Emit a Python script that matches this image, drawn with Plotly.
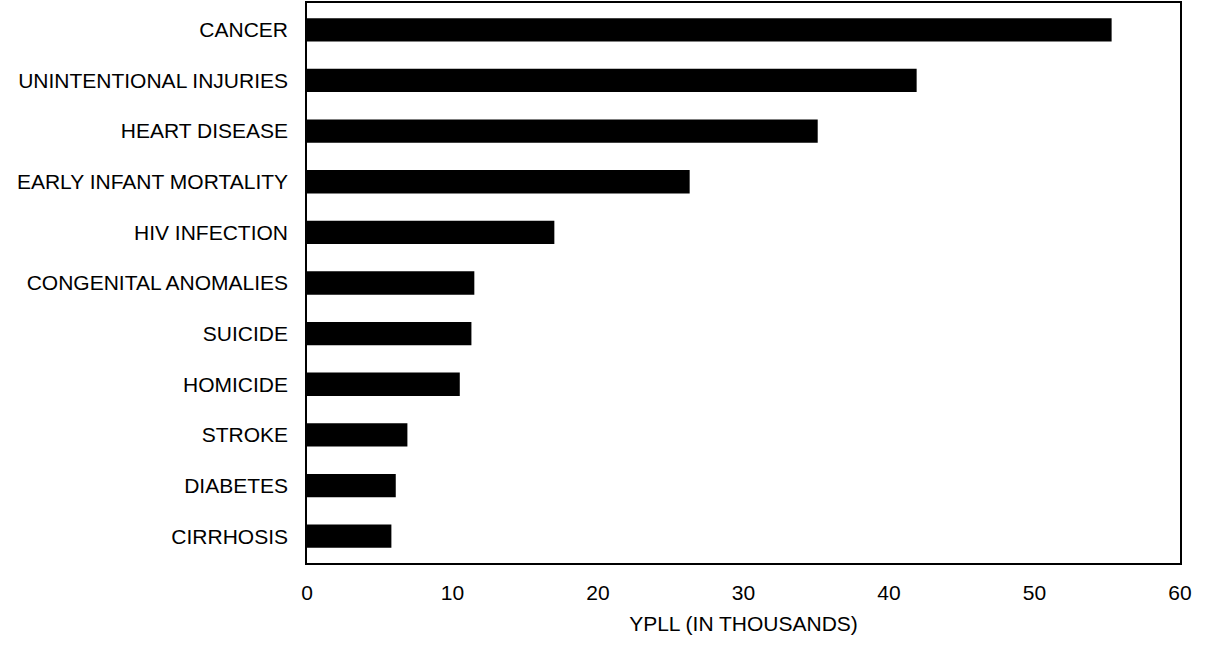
import plotly.graph_objects as go

categories = [
    "CANCER",
    "UNINTENTIONAL INJURIES",
    "HEART DISEASE",
    "EARLY INFANT MORTALITY",
    "HIV INFECTION",
    "CONGENITAL ANOMALIES",
    "SUICIDE",
    "HOMICIDE",
    "STROKE",
    "DIABETES",
    "CIRRHOSIS",
]
ypll_thousands = [55.3, 41.9, 35.1, 26.3, 17.0, 11.5, 11.3, 10.5, 6.9, 6.1, 5.8]
x_tick_values = [0, 10, 20, 30, 40, 50, 60]
x_title = "YPLL (IN THOUSANDS)"

FONT = "Liberation Sans, Arial, sans-serif"

fig = go.Figure(
    go.Bar(
        x=ypll_thousands,
        y=categories,
        orientation="h",
        marker=dict(color="black", line=dict(width=0)),
        width=0.46,
        hoverinfo="x+y",
    )
)

fig.update_layout(
    width=1206,
    height=651,
    margin=dict(l=307, r=26, t=3, b=88),
    paper_bgcolor="white",
    plot_bgcolor="white",
    showlegend=False,
    font=dict(family=FONT, color="black", size=21),
)

fig.update_xaxes(
    range=[0, 60],
    tickvals=x_tick_values,
    ticktext=[str(v) for v in x_tick_values],
    showgrid=False,
    zeroline=False,
    showline=True,
    linecolor="black",
    linewidth=1.5,
    mirror=True,
    ticks="",
    ticklabelstandoff=10,
    tickfont=dict(size=21, family=FONT, color="black"),
    title=dict(text=x_title, font=dict(size=21, family=FONT, color="black"), standoff=13),
    automargin=False,
)

fig.update_yaxes(
    categoryorder="array",
    categoryarray=categories,
    range=[10.53, -0.53],
    showgrid=False,
    zeroline=False,
    showline=True,
    linecolor="black",
    linewidth=1.5,
    mirror=True,
    ticks="",
    ticklabelstandoff=13,
    tickfont=dict(size=21, family=FONT, color="black"),
    automargin=False,
)

fig.write_html(
    "out.html",
    config={"displayModeBar": False},
    post_script="document.body.style.margin='0';document.body.style.padding='0';",
)
